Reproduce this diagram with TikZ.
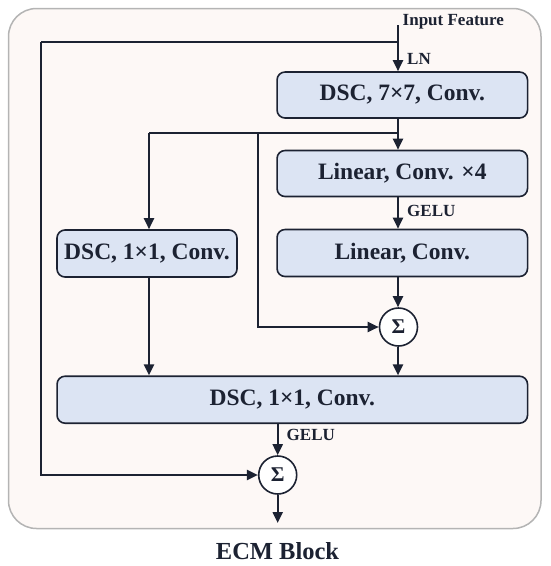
\documentclass[tikz,border=0pt]{standalone}
\usepackage{fontspec}
\setmainfont{Liberation Serif}
\usetikzlibrary{arrows.meta}
\definecolor{panelfill}{HTML}{FDF8F6}
\definecolor{panelline}{HTML}{B4B4B4}
\definecolor{boxfill}{HTML}{DCE4F3}
\definecolor{ink}{HTML}{1C2232}
\begin{document}
\begin{tikzpicture}[x=1pt,y=-1pt,
  blk/.style={draw=ink,line width=1.6pt,fill=boxfill,rounded corners=8pt,inner sep=0pt,
    font=\bfseries\fontsize{23.5}{26}\selectfont,text=ink},
  sumnode/.style={circle,draw=ink,line width=1.6pt,fill=white,minimum size=38pt,inner sep=0pt,
    font=\bfseries\fontsize{21}{23}\selectfont,text=ink},
  conn/.style={draw=ink,line width=2.1pt},
  arr/.style={conn,-{Triangle[length=11pt,width=10pt]}},
  lbl/.style={font=\bfseries\fontsize{17}{19}\selectfont,text=ink,inner sep=0pt}]
\useasboundingbox (0,0) rectangle (550,566);
\draw[panelline,line width=1.5pt,fill=panelfill,rounded corners=28pt] (8.5,8.5) rectangle (541,528.5);

\node[blk,minimum width=250.5pt,minimum height=46pt] (b1) at (402.3,95) {DSC, 7×7, Conv.};
\node[blk,minimum width=250.5pt,minimum height=46pt] (b2) at (402.3,173.5) {Linear, Conv. ×4};
\node[blk,minimum width=250.5pt,minimum height=47pt] (b3) at (402.3,253) {Linear, Conv.};
\node[blk,minimum width=180pt,minimum height=47pt] (lb) at (147,253.5) {DSC, 1×1, Conv.};
\node[blk,minimum width=470.5pt,minimum height=47pt] (bb) at (292.3,399.7) {DSC, 1×1, Conv.};
\node[sumnode] (s1) at (398.5,327) {Σ};
\node[sumnode] (s2) at (277.7,475) {Σ};

\node[lbl,anchor=west] (inlbl) at (402.5,22) {Input Feature};
\node[lbl,anchor=west] (ln) at (407,59) {LN};
\node[lbl,anchor=west] (g1) at (407,211) {GELU};
\node[lbl,anchor=west] (g2) at (286.5,434.5) {GELU};
\node[font=\bfseries\fontsize{24.5}{27}\selectfont,text=ink,inner sep=0pt] (title) at (277.5,551) {ECM Block};

\coordinate (in) at (398,25);
\coordinate (tap) at (398,41.7);
\coordinate (lft) at (40.7,41.7);
\coordinate (br) at (398,132.7);
\coordinate (brl) at (149,132.7);
\coordinate (brm) at (258,132.7);
\coordinate (out) at (277.7,523);

\draw[arr] (in) -- (in |- b1.north);
\draw[conn] (tap) -- (lft);
\draw[arr] (lft) |- (s2.west);
\draw[arr] (br |- b1.south) -- (br |- b2.north);
\draw[conn] (br) -- (brl);
\draw[arr] (brl) -- (brl |- lb.north);
\draw[arr] (brm) |- (s1.west);
\draw[arr] (br |- b2.south) -- (br |- b3.north);
\draw[arr] (br |- b3.south) -- (br |- s1.north);
\draw[arr] (br |- s1.south) -- (br |- bb.north);
\draw[arr] (brl |- lb.south) -- (brl |- bb.north);
\draw[arr] (s2 |- bb.south) -- (s2.north);
\draw[arr] (s2.south) -- (out);
\end{tikzpicture}
\end{document}
